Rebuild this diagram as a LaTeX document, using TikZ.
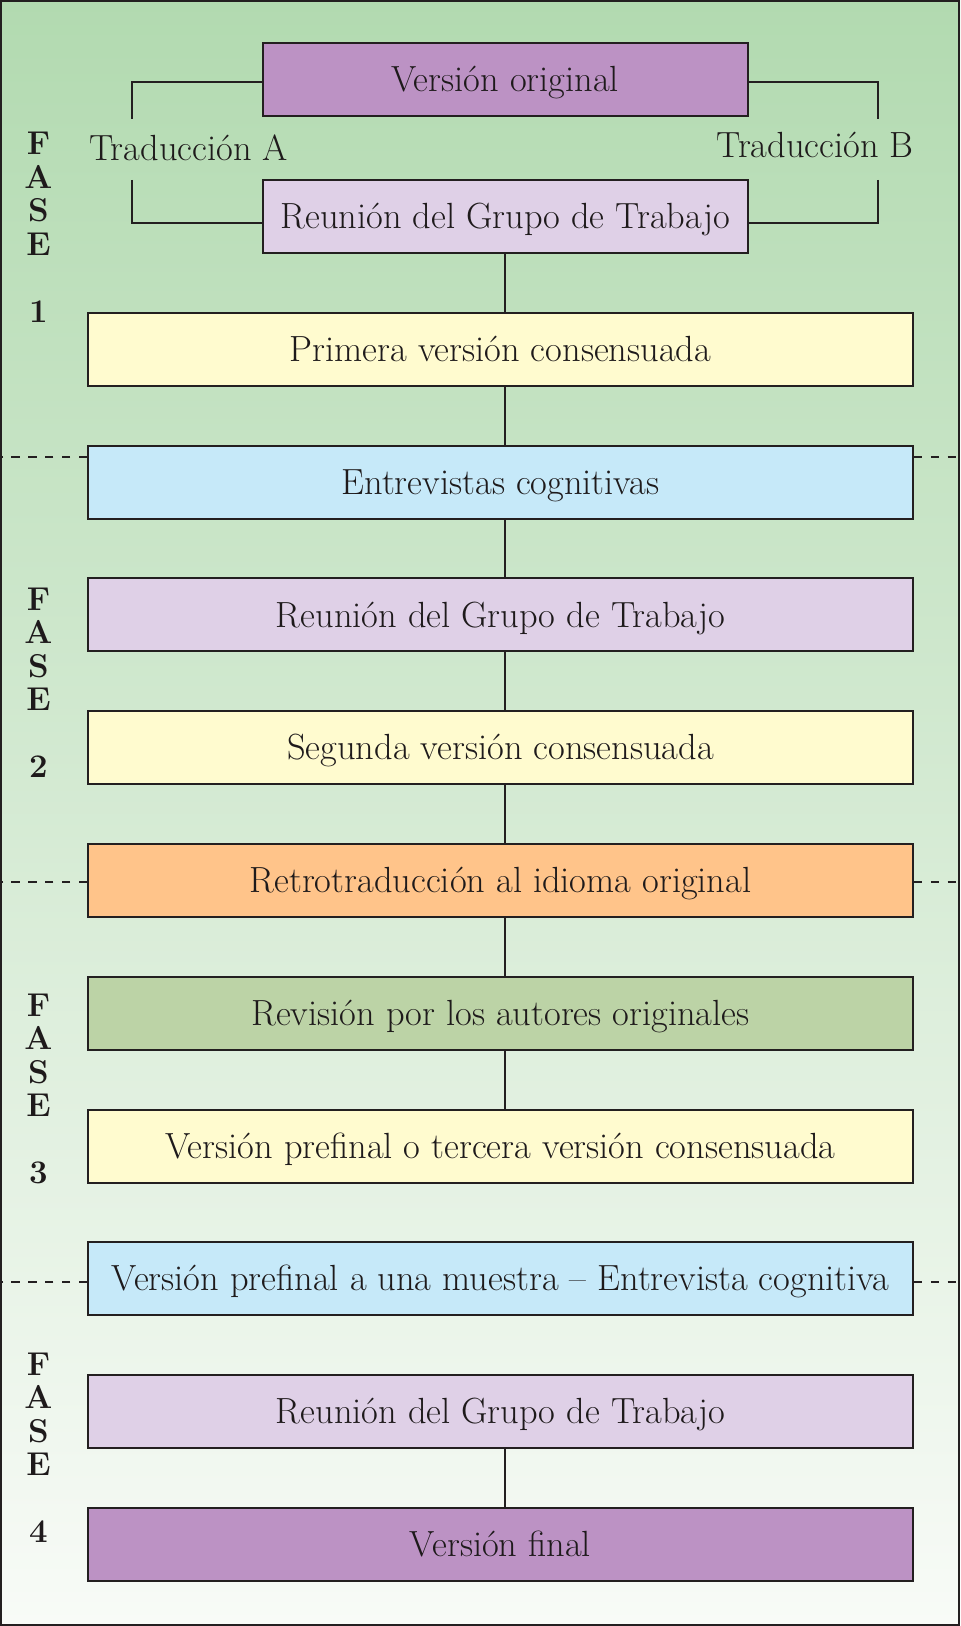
\documentclass[tikz,border=0pt]{standalone}
\usepackage{tikz}
\definecolor{bgtop}{RGB}{178,218,176}
\definecolor{bgbot}{RGB}{248,251,247}
\definecolor{linec}{RGB}{35,31,32}
\definecolor{textc}{RGB}{30,26,27}
\definecolor{cpurple}{RGB}{188,146,196}
\definecolor{clav}{RGB}{223,208,231}
\definecolor{cyellow}{RGB}{255,251,207}
\definecolor{cblue}{RGB}{198,233,249}
\definecolor{corange}{RGB}{255,196,138}
\definecolor{cgreen}{RGB}{188,211,166}
\newcommand\bxfont{\fontsize{18.2}{22}\selectfont}
\newcommand\fsfont{\fontsize{16.5}{18}\selectfont\bfseries}
\tikzset{
  box/.style={draw=linec, line width=1pt, inner sep=0pt, text=textc, font=\bxfont,
    text height=12.4pt, text depth=0pt},
  widebox/.style={box, minimum width=412.5pt, minimum height=36.5pt},
  topbox/.style={box, minimum width=242.5pt, minimum height=36.6pt},
  conn/.style={draw=linec, line width=1pt},
  dashline/.style={draw=linec, line width=0.85pt, dash pattern=on 4.2pt off 4.2pt},
  fase/.style={inner sep=0pt, text=textc, font=\fsfont, anchor=base},
  lbl/.style={inner sep=0pt, text=textc, font=\bxfont},
}
\begin{document}
\begin{tikzpicture}[x=0.5pt,y=-0.5pt]
\useasboundingbox (0,0) rectangle (960,1626);
\fill[top color=bgtop, bottom color=bgbot] (0,0) rectangle (960,1626);
\draw[line width=1.25pt, linec] (1.2,1.2) rectangle (958.8,1624.8);

% top boxes
\node[topbox, fill=cpurple] (vo) at (505.2,79.35) {Versión original};
\node[topbox, fill=clav] (r1) at (505.2,216.4) {Reunión del Grupo de Trabajo};

% wide boxes
\node[widebox, fill=cyellow] (p1) at (500.5,349.4) {Primera versión consensuada};
\node[widebox, fill=cblue]   (e1) at (500.5,482.1) {Entrevistas cognitivas};
\node[widebox, fill=clav]    (r2) at (500.5,614.8) {Reunión del Grupo de Trabajo};
\node[widebox, fill=cyellow] (s2) at (500.5,747.5) {Segunda versión consensuada};
\node[widebox, fill=corange] (rt) at (500.5,880.5) {Retrotraducción al idioma original};
\node[widebox, fill=cgreen]  (ra) at (500.5,1013)  {Revisión por los autores originales};
\node[widebox, fill=cyellow] (t3) at (500.5,1146)  {Versión prefinal o tercera versión consensuada};
\node[widebox, fill=cblue]   (pm) at (500.5,1278.5) {Versión prefinal a una muestra -- Entrevista cognitiva};
\node[widebox, fill=clav]    (r3) at (500.5,1411.2) {Reunión del Grupo de Trabajo};
\node[widebox, fill=cpurple] (vf) at (500.5,1544) {Versión final};

% translation labels
\node[lbl, anchor=base west] (ta) at (89,160.7) {Traducción A};
\node[lbl, anchor=base east] (tb) at (914,157.7) {Traducción B};

% brackets
\coordinate (la1) at (131.7,81.7);
\coordinate (la2) at (131.7,119.3);
\coordinate (la3) at (131.7,180);
\coordinate (la4) at (131.7,222.7);
\coordinate (rb1) at (877.7,81.7);
\coordinate (rb2) at (877.7,119.3);
\coordinate (rb3) at (877.7,180);
\coordinate (rb4) at (877.7,222.7);
\draw[conn] (vo.west |- la1) -- (la1) -- (la2);
\draw[conn] (la3) -- (la4) -- (r1.west |- la4);
\draw[conn] (vo.east |- rb1) -- (rb1) -- (rb2);
\draw[conn] (rb3) -- (rb4) -- (r1.east |- rb4);

% vertical connectors
\draw[conn] (r1.south) -- (r1.south |- p1.north);
\draw[conn] (r1.south |- p1.south) -- (r1.south |- e1.north);
\draw[conn] (r1.south |- e1.south) -- (r1.south |- r2.north);
\draw[conn] (r1.south |- r2.south) -- (r1.south |- s2.north);
\draw[conn] (r1.south |- s2.south) -- (r1.south |- rt.north);
\draw[conn] (r1.south |- rt.south) -- (r1.south |- ra.north);
\draw[conn] (r1.south |- ra.south) -- (r1.south |- t3.north);
\draw[conn] (r1.south |- r3.south) -- (r1.south |- vf.north);

% dashed phase separators
\coordinate (dl1) at (2,457.3);   \coordinate (dr1) at (958,457.3);
\coordinate (dl2) at (2,882.3);   \coordinate (dr2) at (958,882.3);
\coordinate (dl3) at (2,1281.7);  \coordinate (dr3) at (958,1281.7);
\draw[dashline] (e1.west |- dl1) -- (dl1);
\draw[dashline] (e1.east |- dr1) -- (dr1);
\draw[dashline] (rt.west |- dl2) -- (dl2);
\draw[dashline] (rt.east |- dr2) -- (dr2);
\draw[dashline] (pm.west |- dl3) -- (dl3);
\draw[dashline] (pm.east |- dr3) -- (dr3);

% FASE labels
\foreach \n/\b in {1/155, 2/610, 3/1016, 4/1375}{
  \node[fase] (f\n F) at (38.5,\b) {F};
  \node[fase] (f\n A) at (38.5,\b+33.5) {A};
  \node[fase] (f\n S) at (38.5,\b+67) {S};
  \node[fase] (f\n E) at (38.5,\b+100.5) {E};
  \node[fase] (f\n N) at (38.5,\b+167.5) {\n};
}
\end{tikzpicture}
\end{document}
